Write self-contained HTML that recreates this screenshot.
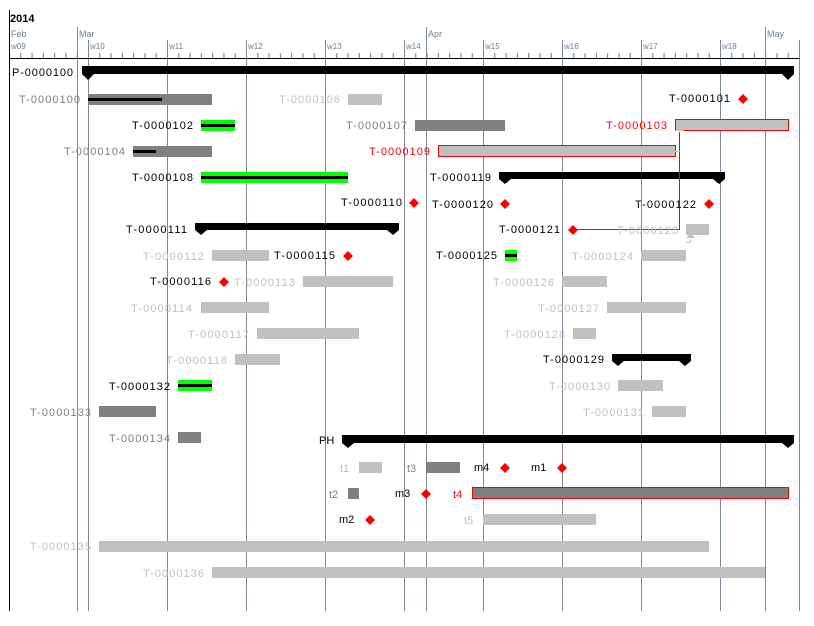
<!DOCTYPE html>
<html><head><meta charset="utf-8"><style>
html,body{margin:0;padding:0;background:#fff;}
svg{display:block;font-family:"Liberation Sans",sans-serif;}
.k{fill:#000;font-size:11px}
.g{fill:#808080;font-size:11px}
.l{fill:#c0c0c0;font-size:11px}
.r{fill:#f00;font-size:11px}
.h{fill:#6e7e8e;font-size:8px}
.m{fill:#6e7e8e;font-size:9px}
</style></head><body>
<svg width="814" height="626" viewBox="0 0 814 626" xmlns="http://www.w3.org/2000/svg">
<defs>
<pattern id="tk" patternUnits="userSpaceOnUse" x="88" y="0" width="11.286" height="10"><rect x="0" y="0" width="1" height="10" fill="#6e7e8e"/></pattern>
</defs>
<text x="10" y="22" style="font-size:11px;font-weight:bold;fill:#000">2014</text>
<text x="11" y="37" class="m">Feb</text>
<text x="79" y="37" class="m">Mar</text>
<text x="428" y="37" class="m">Apr</text>
<text x="767" y="37" class="m">May</text>
<g class="h">
<text x="11" y="49">w09</text><text x="90" y="49">w10</text><text x="169" y="49">w11</text><text x="248" y="49">w12</text><text x="327" y="49">w13</text><text x="406" y="49">w14</text><text x="485" y="49">w15</text><text x="564" y="49">w16</text><text x="643" y="49">w17</text><text x="722" y="49">w18</text>
</g>
<rect x="10" y="53" width="789" height="5" fill="url(#tk)"/>
<g stroke="#7a8a9a" stroke-width="1">
<line x1="77.5" y1="27" x2="77.5" y2="611"/><line x1="426.5" y1="27" x2="426.5" y2="611"/><line x1="765.5" y1="27" x2="765.5" y2="611"/>
<line x1="88.5" y1="40" x2="88.5" y2="611"/><line x1="167.5" y1="40" x2="167.5" y2="611"/><line x1="246.5" y1="40" x2="246.5" y2="611"/><line x1="325.5" y1="40" x2="325.5" y2="611"/><line x1="404.5" y1="40" x2="404.5" y2="611"/><line x1="483.5" y1="40" x2="483.5" y2="611"/><line x1="562.5" y1="40" x2="562.5" y2="611"/><line x1="641.5" y1="40" x2="641.5" y2="611"/><line x1="720.5" y1="40" x2="720.5" y2="611"/><line x1="799.5" y1="40" x2="799.5" y2="611"/>
</g>
<line x1="9.5" y1="10" x2="9.5" y2="611" stroke="#000"/>
<line x1="9" y1="58.5" x2="800" y2="58.5" stroke="#000"/>

<!-- summaries -->
<g fill="#000">
<rect x="82" y="66" width="712" height="8"/><path d="M82 74h12l-6 6z M782 74h12l-6 6z"/>
<rect x="499" y="172" width="226" height="7"/><path d="M499 179h12l-6 5z M713 179h12l-6 5z"/>
<rect x="195" y="223" width="204" height="7"/><path d="M195 230h12l-6 5z M387 230h12l-6 5z"/>
<rect x="612" y="354" width="79" height="7"/><path d="M612 361h12l-6 5z M679 361h12l-6 5z"/>
<rect x="342" y="435" width="452" height="8"/><path d="M342 443h12l-6 5z M782 443h12l-6 5z"/>
</g>
<text x="12" y="76" class="k" textLength="61">P-0000100</text>
<text x="430" y="181" class="k" textLength="61">T-0000119</text>
<text x="126" y="233" class="k" textLength="61">T-0000111</text>
<text x="543" y="363" class="k" textLength="61">T-0000129</text>
<text x="319" y="444" class="k">PH</text>

<!-- bars -->
<g fill="#808080">
<rect x="88" y="94" width="124" height="11"/>
<rect x="415" y="120" width="90" height="11"/>
<rect x="133" y="146" width="79" height="11"/>
<rect x="99" y="406" width="57" height="11"/>
<rect x="178" y="432" width="23" height="11"/>
<rect x="426" y="462" width="34" height="11"/>
<rect x="348" y="488" width="11" height="11"/>
</g>
<g fill="#c0c0c0">
<rect x="348" y="94" width="34" height="11"/>
<rect x="686" y="224" width="23" height="11"/>
<rect x="212" y="250" width="57" height="11"/>
<rect x="641" y="250" width="45" height="11"/>
<rect x="303" y="276" width="90" height="11"/>
<rect x="562" y="276" width="45" height="11"/>
<rect x="201" y="302" width="68" height="11"/>
<rect x="607" y="302" width="79" height="11"/>
<rect x="257" y="328" width="102" height="11"/>
<rect x="573" y="328" width="23" height="11"/>
<rect x="235" y="354" width="45" height="11"/>
<rect x="618" y="380" width="45" height="11"/>
<rect x="652" y="406" width="34" height="11"/>
<rect x="359" y="462" width="23" height="11"/>
<rect x="483" y="514" width="113" height="11"/>
<rect x="99" y="541" width="610" height="11"/>
<rect x="212" y="567" width="553" height="11"/>
</g>
<rect x="675.5" y="119.5" width="113" height="11" fill="#c0c0c0" stroke="#f00"/>
<rect x="438.5" y="145.5" width="237" height="11" fill="#c0c0c0" stroke="#f00"/>
<rect x="472.5" y="487.5" width="316" height="11" fill="#808080" stroke="#f00"/>
<g fill="#00ff00">
<rect x="201" y="120" width="34" height="11"/>
<rect x="201" y="172" width="147" height="11"/>
<rect x="505" y="250" width="12" height="11"/>
<rect x="178" y="380" width="34" height="11"/>
</g>
<g fill="#000">
<rect x="88" y="98" width="74" height="3"/>
<rect x="133" y="150" width="23" height="3"/>
<rect x="201" y="124" width="34" height="3"/>
<rect x="201" y="176" width="147" height="3"/>
<rect x="505" y="254" width="12" height="3"/>
<rect x="178" y="384" width="34" height="3"/>
</g>

<!-- dependency lines -->
<polyline points="573,229.5 679.5,229.5 679.5,132" fill="none" stroke="#f00"/>
<path d="M675 131h9l-4.5-5z" fill="#c0c0c0"/>
<polyline points="686,242.5 690.5,242.5 690.5,239" fill="none" stroke="#c0c0c0"/>
<path d="M686 238h9l-4.5-5z" fill="#c0c0c0"/>
<line x1="675" y1="151.5" x2="680" y2="151.5" stroke="#c0c0c0"/>

<!-- milestones -->
<g fill="#f00">
<path d="M743 94l5 5-5 5-5-5z"/>
<path d="M414 198l5 5-5 5-5-5z"/>
<path d="M505 199l5 5-5 5-5-5z"/>
<path d="M709 199l5 5-5 5-5-5z"/>
<path d="M573 225l5 5-5 5-5-5z"/>
<path d="M348 251l5 5-5 5-5-5z"/>
<path d="M224 277l5 5-5 5-5-5z"/>
<path d="M505 463l5 5-5 5-5-5z"/>
<path d="M562 463l5 5-5 5-5-5z"/>
<path d="M426 489l5 5-5 5-5-5z"/>
<path d="M370 515l5 5-5 5-5-5z"/>
</g>

<!-- labels -->
<text x="19" y="103" class="g" textLength="61">T-0000100</text>
<text x="279" y="103" class="l" textLength="61">T-0000106</text>
<text x="669" y="102" class="k" textLength="61">T-0000101</text>
<text x="132" y="129" class="k" textLength="61">T-0000102</text>
<text x="346" y="129" class="g" textLength="61">T-0000107</text>
<text x="606" y="129" class="r" textLength="61">T-0000103</text>
<text x="64" y="155" class="g" textLength="61">T-0000104</text>
<text x="369" y="155" class="r" textLength="61">T-0000109</text>
<text x="132" y="181" class="k" textLength="61">T-0000108</text>
<text x="341" y="206" class="k" textLength="61">T-0000110</text>
<text x="432" y="208" class="k" textLength="61">T-0000120</text>
<text x="635" y="208" class="k" textLength="61">T-0000122</text>
<text x="499" y="233" class="k" textLength="61">T-0000121</text>
<text x="617" y="234" class="l" textLength="61">T-0000123</text>
<text x="143" y="260" class="l" textLength="61">T-0000112</text>
<text x="274" y="259" class="k" textLength="61">T-0000115</text>
<text x="436" y="259" class="k" textLength="61">T-0000125</text>
<text x="572" y="260" class="l" textLength="61">T-0000124</text>
<text x="150" y="285" class="k" textLength="61">T-0000116</text>
<text x="234" y="286" class="l" textLength="61">T-0000113</text>
<text x="493" y="286" class="l" textLength="61">T-0000126</text>
<text x="131" y="312" class="l" textLength="61">T-0000114</text>
<text x="538" y="312" class="l" textLength="61">T-0000127</text>
<text x="188" y="338" class="l" textLength="61">T-0000117</text>
<text x="504" y="338" class="l" textLength="61">T-0000128</text>
<text x="166" y="364" class="l" textLength="61">T-0000118</text>
<text x="109" y="390" class="k" textLength="61">T-0000132</text>
<text x="549" y="390" class="l" textLength="61">T-0000130</text>
<text x="30" y="416" class="g" textLength="61">T-0000133</text>
<text x="583" y="416" class="l" textLength="61">T-0000131</text>
<text x="109" y="442" class="g" textLength="61">T-0000134</text>
<text x="340" y="472" class="l">t1</text>
<text x="407" y="472" class="g">t3</text>
<text x="474" y="471" class="k">m4</text>
<text x="531" y="471" class="k">m1</text>
<text x="329" y="498" class="g">t2</text>
<text x="395" y="497" class="k">m3</text>
<text x="453" y="498" class="r">t4</text>
<text x="339" y="523" class="k">m2</text>
<text x="464" y="524" class="l">t5</text>
<text x="30" y="550" class="l" textLength="61">T-0000135</text>
<text x="143" y="577" class="l" textLength="61">T-0000136</text>
</svg>
</body></html>
